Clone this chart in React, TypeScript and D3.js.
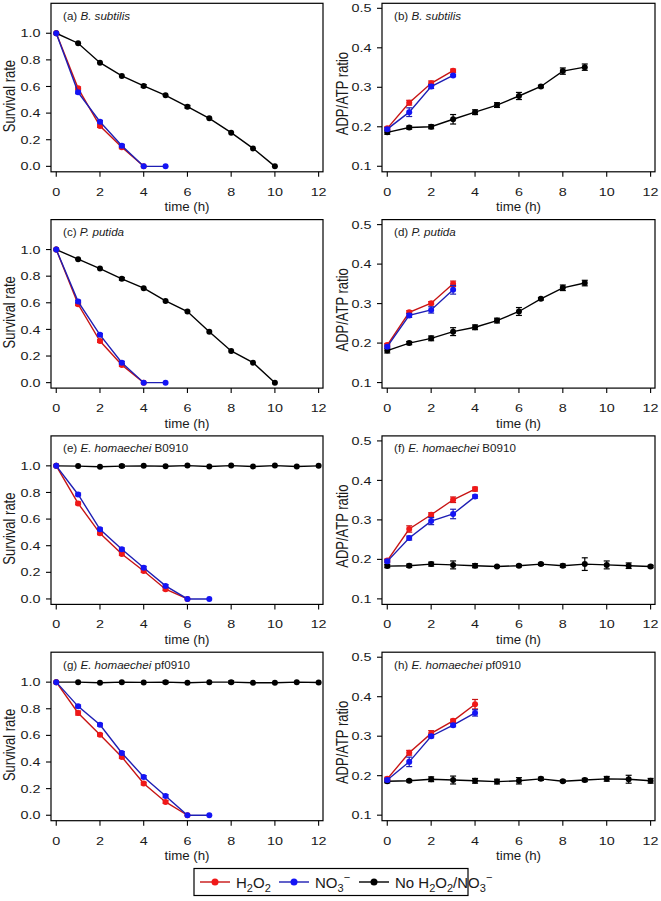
import React from 'react';
import * as d3 from 'd3';

const HOURS = [0, 1, 2, 3, 4, 5, 6, 7, 8, 9, 10, 11, 12];
const X_TICKS = [0, 2, 4, 6, 8, 10, 12];
const SURV_TICKS = [0, 0.2, 0.4, 0.6, 0.8, 1.0];
const RATIO_TICKS = [0.1, 0.2, 0.3, 0.4, 0.5];

// (a) B. subtilis survival
const A_H2O2 = [1.0, 0.586, 0.303, 0.143, 0.0];
const A_NO3 = [1.0, 0.556, 0.335, 0.155, 0.0, 0.0];
const A_CTRL = [1.0, 0.925, 0.779, 0.679, 0.604, 0.534, 0.448, 0.361, 0.253, 0.135, 0.0];
const A_H2O2_ERR = [0, 0.01, 0.01, 0.01, 0];
const A_NO3_ERR = [0, 0.01, 0.01, 0.01, 0, 0];
const A_CTRL_ERR = [0, 0, 0, 0, 0.01, 0, 0.01, 0, 0, 0, 0];

// (b) B. subtilis ADP/ATP
const B_H2O2 = [0.196, 0.261, 0.31, 0.342];
const B_NO3 = [0.194, 0.237, 0.302, 0.33];
const B_CTRL = [0.186, 0.198, 0.2, 0.219, 0.237, 0.255, 0.278, 0.302, 0.341, 0.351];
const B_H2O2_ERR = [0.004, 0.006, 0.006, 0.004];
const B_NO3_ERR = [0.004, 0.011, 0.005, 0.003];
const B_CTRL_ERR = [0.005, 0.004, 0.005, 0.012, 0.006, 0.006, 0.009, 0.003, 0.008, 0.008];

// (c) P. putida survival
const C_H2O2 = [1.0, 0.589, 0.313, 0.133, 0.0];
const C_NO3 = [1.0, 0.609, 0.359, 0.15, 0.0, 0.0];
const C_CTRL = [1.0, 0.928, 0.857, 0.78, 0.71, 0.614, 0.534, 0.383, 0.238, 0.15, 0.0];
const C_H2O2_ERR = [0, 0.01, 0.01, 0.01, 0];
const C_NO3_ERR = [0, 0.01, 0.01, 0.01, 0, 0];
const C_CTRL_ERR = [0, 0, 0, 0.01, 0, 0, 0, 0, 0, 0, 0];

// (d) P. putida ADP/ATP
const D_H2O2 = [0.195, 0.278, 0.301, 0.35];
const D_NO3 = [0.191, 0.27, 0.284, 0.335];
const D_CTRL = [0.181, 0.2, 0.212, 0.229, 0.24, 0.257, 0.28, 0.312, 0.34, 0.352];
const D_H2O2_ERR = [0.004, 0.004, 0.004, 0.007];
const D_NO3_ERR = [0.004, 0.005, 0.008, 0.011];
const D_CTRL_ERR = [0.006, 0.004, 0.006, 0.01, 0.006, 0.006, 0.01, 0.003, 0.007, 0.007];

// (e) E. homaechei B0910 survival
const E_H2O2 = [1.0, 0.718, 0.493, 0.338, 0.21, 0.073, 0.0];
const E_NO3 = [1.0, 0.785, 0.523, 0.373, 0.235, 0.098, 0.0, 0.0];
const E_CTRL = [1.0, 0.998, 0.993, 0.998, 1.0, 0.997, 1.002, 0.995, 1.002, 0.995, 1.002, 0.995, 1.0];
const E_H2O2_ERR = [0, 0.01, 0.01, 0.01, 0.01, 0.01, 0];
const E_NO3_ERR = [0, 0.01, 0.01, 0.01, 0.01, 0.01, 0, 0];
const E_CTRL_ERR = [0, 0, 0, 0.01, 0, 0, 0, 0, 0, 0, 0, 0, 0];

// (f) E. homaechei B0910 ADP/ATP
const F_H2O2 = [0.197, 0.277, 0.313, 0.351, 0.378];
const F_NO3 = [0.195, 0.254, 0.297, 0.315, 0.359];
const F_CTRL = [0.183, 0.184, 0.188, 0.186, 0.184, 0.182, 0.184, 0.188, 0.184, 0.188, 0.186, 0.184, 0.182];
const F_H2O2_ERR = [0.004, 0.008, 0.005, 0.007, 0.005];
const F_NO3_ERR = [0.004, 0.005, 0.009, 0.012, 0.004];
const F_CTRL_ERR = [0.004, 0.004, 0.005, 0.01, 0.005, 0.002, 0.003, 0.003, 0.004, 0.016, 0.01, 0.007, 0.003];

// (g) E. homaechei pf0910 survival
const G_H2O2 = [1.0, 0.768, 0.605, 0.438, 0.238, 0.1, 0.0];
const G_NO3 = [1.0, 0.818, 0.68, 0.468, 0.288, 0.145, 0.0, 0.0];
const G_CTRL = [1.0, 1.0, 0.995, 1.0, 0.998, 1.0, 0.995, 1.0, 1.0, 0.995, 0.995, 1.0, 0.997];
const G_H2O2_ERR = [0, 0.015, 0.01, 0.01, 0.01, 0.01, 0];
const G_NO3_ERR = [0, 0.01, 0.01, 0.01, 0.01, 0.01, 0, 0];
const G_CTRL_ERR = [0, 0, 0, 0, 0, 0.01, 0, 0, 0.01, 0, 0, 0, 0];

// (h) E. homaechei pf0910 ADP/ATP
const H_H2O2 = [0.192, 0.258, 0.307, 0.339, 0.381];
const H_NO3 = [0.189, 0.235, 0.3, 0.328, 0.359];
const H_CTRL = [0.186, 0.187, 0.191, 0.189, 0.187, 0.185, 0.187, 0.192, 0.186, 0.189, 0.192, 0.191, 0.187];
const H_H2O2_ERR = [0.004, 0.006, 0.007, 0.004, 0.012];
const H_NO3_ERR = [0.004, 0.012, 0.004, 0.004, 0.008];
const H_CTRL_ERR = [0.004, 0.003, 0.006, 0.01, 0.006, 0.006, 0.008, 0.004, 0.003, 0.004, 0.006, 0.01, 0.006];

const RED = '#f01818';
const RED_LINE = '#c81414';
const BLUE = '#1414f5';
const BLUE_LINE = '#1e1eb4';
const BLACK = '#000000';
const FONT = "'Liberation Sans', Arial, Helvetica, sans-serif";
const TEXT_COLOR = '#1a1a1a';

type Series = { y: number[]; err: number[]; fill: string; line: string };
type Panel = {
  row: number;
  col: number;
  letter: string;
  species: string;
  strain: string;
  kind: 'surv' | 'ratio';
  series: Series[];
};

const mk = (ctrl: number[], ctrlErr: number[], h: number[], hErr: number[], n: number[], nErr: number[]): Series[] => [
  { y: ctrl, err: ctrlErr, fill: BLACK, line: BLACK },
  { y: h, err: hErr, fill: RED, line: RED_LINE },
  { y: n, err: nErr, fill: BLUE, line: BLUE_LINE },
];

const PANELS: Panel[] = [
  { row: 0, col: 0, letter: 'a', species: 'B. subtilis', strain: '', kind: 'surv', series: mk(A_CTRL, A_CTRL_ERR, A_H2O2, A_H2O2_ERR, A_NO3, A_NO3_ERR) },
  { row: 0, col: 1, letter: 'b', species: 'B. subtilis', strain: '', kind: 'ratio', series: mk(B_CTRL, B_CTRL_ERR, B_H2O2, B_H2O2_ERR, B_NO3, B_NO3_ERR) },
  { row: 1, col: 0, letter: 'c', species: 'P. putida', strain: '', kind: 'surv', series: mk(C_CTRL, C_CTRL_ERR, C_H2O2, C_H2O2_ERR, C_NO3, C_NO3_ERR) },
  { row: 1, col: 1, letter: 'd', species: 'P. putida', strain: '', kind: 'ratio', series: mk(D_CTRL, D_CTRL_ERR, D_H2O2, D_H2O2_ERR, D_NO3, D_NO3_ERR) },
  { row: 2, col: 0, letter: 'e', species: 'E. homaechei', strain: 'B0910', kind: 'surv', series: mk(E_CTRL, E_CTRL_ERR, E_H2O2, E_H2O2_ERR, E_NO3, E_NO3_ERR) },
  { row: 2, col: 1, letter: 'f', species: 'E. homaechei', strain: 'B0910', kind: 'ratio', series: mk(F_CTRL, F_CTRL_ERR, F_H2O2, F_H2O2_ERR, F_NO3, F_NO3_ERR) },
  { row: 3, col: 0, letter: 'g', species: 'E. homaechei', strain: 'pf0910', kind: 'surv', series: mk(G_CTRL, G_CTRL_ERR, G_H2O2, G_H2O2_ERR, G_NO3, G_NO3_ERR) },
  { row: 3, col: 1, letter: 'h', species: 'E. homaechei', strain: 'pf0910', kind: 'ratio', series: mk(H_CTRL, H_CTRL_ERR, H_H2O2, H_H2O2_ERR, H_NO3, H_NO3_ERR) },
];

function SText({ x, y, sx = 1.25, size = 11.5, anchor = 'middle', children }: any) {
  return (
    <text
      transform={`translate(${x},${y}) scale(${sx},1)`}
      fontSize={size}
      textAnchor={anchor}
      fontFamily={FONT}
      fill={TEXT_COLOR}
    >
      {children}
    </text>
  );
}

function PanelView({ p }: { p: Panel }) {
  const left = p.col === 0 ? 51 : 382;
  const right = p.col === 0 ? 323 : 655;
  const base = 166.3 + 216.3 * p.row;
  const top = base - 163;
  const bottom = base + 5.5;
  const x = d3.scaleLinear().domain([-0.24, 12.2]).range([left, right]);
  const y =
    p.kind === 'surv'
      ? d3.scaleLinear().domain([-0.041, 1.225]).range([bottom, top])
      : d3.scaleLinear().domain([0.086, 0.5127]).range([bottom, top]);
  const yTicks = p.kind === 'surv' ? SURV_TICKS : RATIO_TICKS;
  const fmt = d3.format('.1f');
  const line = d3
    .line<number>()
    .x((_, i) => x(HOURS[i]))
    .y((d) => y(d));
  const midX = (left + right) / 2;
  const midY = (top + bottom) / 2 + (p.kind === 'surv' ? 8.5 : 6);
  return (
    <g>
      <rect x={left} y={top} width={right - left} height={bottom - top} fill="none" stroke="#000" strokeWidth={1.2} />
      {X_TICKS.map((t) => (
        <g key={'x' + t}>
          <line x1={x(t)} x2={x(t)} y1={bottom} y2={bottom + 5} stroke="#000" strokeWidth={1.1} />
          <SText x={x(t)} y={bottom + 24}>{t}</SText>
        </g>
      ))}
      {yTicks.map((t) => (
        <g key={'y' + t}>
          <line x1={left - 5} x2={left} y1={y(t)} y2={y(t)} stroke="#000" strokeWidth={1.1} />
          <SText x={left - 10.5} y={y(t) + 4.1} anchor="end">{fmt(t)}</SText>
        </g>
      ))}
      <SText x={midX} y={bottom + 39.5} size={12.3} sx={1.08}>time (h)</SText>
      <text
        transform={`translate(${p.col === 0 ? 15 : 348},${midY}) scale(1.2,1) rotate(-90)`}
        fontSize={13}
        textAnchor="middle"
        fontFamily={FONT}
        fill={TEXT_COLOR}
      >
        {p.kind === 'surv' ? 'Survival rate' : 'ADP/ATP ratio'}
      </text>
      <text x={left + 12} y={top + 16.5} fontSize={11.6} fontFamily={FONT} fill={TEXT_COLOR}>
        <tspan>({p.letter}) </tspan>
        <tspan fontStyle="italic">{p.species}</tspan>
        {p.strain ? <tspan> {p.strain}</tspan> : null}
      </text>
      {p.series.map((s, si) => (
        <g key={'s' + si}>
          <path d={line(s.y) || ''} fill="none" stroke={s.line} strokeWidth={1.4} />
          {s.y.map((v, i) =>
            s.err[i] > 0 ? (
              <g key={'e' + i}>
                <line x1={x(HOURS[i])} x2={x(HOURS[i])} y1={y(v - s.err[i])} y2={y(v + s.err[i])} stroke={s.line} strokeWidth={1.2} />
                <line x1={x(HOURS[i]) - 3} x2={x(HOURS[i]) + 3} y1={y(v - s.err[i])} y2={y(v - s.err[i])} stroke={s.line} strokeWidth={1.2} />
                <line x1={x(HOURS[i]) - 3} x2={x(HOURS[i]) + 3} y1={y(v + s.err[i])} y2={y(v + s.err[i])} stroke={s.line} strokeWidth={1.2} />
              </g>
            ) : null
          )}
          {s.y.map((v, i) => (
            <circle key={'c' + i} cx={x(HOURS[i])} cy={y(v)} r={3} fill={s.fill} />
          ))}
        </g>
      ))}
    </g>
  );
}

function Legend() {
  const cy = 882;
  const entries = [
    { x1: 200, fill: RED, line: RED_LINE },
    { x1: 279, fill: BLUE, line: BLUE_LINE },
    { x1: 359, fill: BLACK, line: BLACK },
  ];
  return (
    <g fontFamily={FONT} fill={TEXT_COLOR}>
      <rect x={194} y={868.5} width={274} height={27} fill="#fff" stroke="#000" strokeWidth={1.2} />
      {entries.map((e, i) => (
        <g key={i}>
          <line x1={e.x1} x2={e.x1 + 30} y1={cy} y2={cy} stroke={e.line} strokeWidth={1.4} />
          <circle cx={e.x1 + 15} cy={cy} r={3.5} fill={e.fill} />
        </g>
      ))}
      <text x={236} y={cy + 5.5} fontSize={15}>
        <tspan>H</tspan>
        <tspan fontSize={11} dy={4}>2</tspan>
        <tspan dy={-4}>O</tspan>
        <tspan fontSize={11} dy={4}>2</tspan>
      </text>
      <text x={315} y={cy + 5.5} fontSize={15}>
        <tspan>NO</tspan>
        <tspan fontSize={11} dy={4}>3</tspan>
        <tspan fontSize={11} dy={-11}>−</tspan>
      </text>
      <text x={395} y={cy + 5.5} fontSize={15}>
        <tspan>No H</tspan>
        <tspan fontSize={11} dy={4}>2</tspan>
        <tspan dy={-4}>O</tspan>
        <tspan fontSize={11} dy={4}>2</tspan>
        <tspan dy={-4}>/NO</tspan>
        <tspan fontSize={11} dy={4}>3</tspan>
        <tspan fontSize={11} dy={-11}>−</tspan>
      </text>
    </g>
  );
}

export default function App() {
  return (
    <svg
      width={661}
      height={901}
      viewBox="0 0 661 901"
      style={{ position: 'absolute', left: 0, top: 0, background: '#fff' }}
    >
      <rect x={0} y={0} width={661} height={901} fill="#fff" />
      {PANELS.map((p) => (
        <PanelView key={p.letter} p={p} />
      ))}
      <Legend />
    </svg>
  );
}
